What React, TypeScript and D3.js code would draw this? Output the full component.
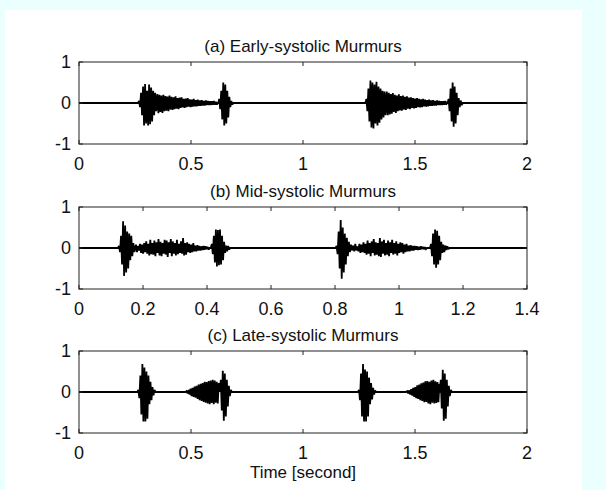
import React from 'react';
import * as d3 from 'd3';

// tick labels
const yTicks = [-1, 0, 1];
const xTicksAC = [0, 0.5, 1, 1.5, 2];
const xTicksB = [0, 0.2, 0.4, 0.6, 0.8, 1, 1.2, 1.4];

// (a) early-systolic: burst samples (alternating peaks)
const a1S1 = [0.05, -0.1, 0.25, -0.3, 0.4, -0.55, 0.46, -0.5, 0.3, -0.55, 0.45, -0.52, 0.38, -0.45, 0.3, -0.3, 0.25, -0.2];
const a1M = [0.22, -0.25, 0.2, -0.22, 0.18, -0.24, 0.2, -0.2, 0.17, -0.19, 0.16, -0.2, 0.18, -0.16, 0.15, -0.17, 0.14, -0.15, 0.16, -0.14, 0.12, -0.15, 0.13, -0.12, 0.14, -0.11, 0.1, -0.12, 0.11, -0.1, 0.12, -0.09, 0.09, -0.1, 0.08, -0.09, 0.1, -0.08, 0.07, -0.08, 0.08, -0.07, 0.06, -0.07, 0.07, -0.06, 0.05, -0.06, 0.06, -0.05, 0.05, -0.05, 0.04, -0.05, 0.04, -0.04, 0.05, -0.04, 0.03, -0.04];
const a1S2 = [0.1, -0.15, 0.3, -0.4, 0.5, -0.55, 0.45, -0.5, 0.3, -0.35, 0.15, -0.1, 0.05, -0.04];
const a2S1 = [0.1, -0.2, 0.35, -0.45, 0.55, -0.6, 0.5, -0.62, 0.45, -0.5, 0.52, -0.55, 0.4, -0.48, 0.35, -0.4, 0.3, -0.35, 0.28, -0.3];
const a2M = [0.28, -0.3, 0.25, -0.28, 0.22, -0.26, 0.24, -0.22, 0.2, -0.24, 0.18, -0.2, 0.21, -0.18, 0.17, -0.19, 0.18, -0.16, 0.15, -0.17, 0.16, -0.14, 0.13, -0.15, 0.14, -0.12, 0.12, -0.13, 0.11, -0.12, 0.12, -0.1, 0.1, -0.11, 0.09, -0.1, 0.1, -0.08, 0.08, -0.09, 0.07, -0.08, 0.08, -0.07, 0.06, -0.07, 0.07, -0.06, 0.05, -0.06, 0.06, -0.05, 0.05, -0.05, 0.04, -0.05, 0.04, -0.04, 0.05, -0.04, 0.03];
const a2S2 = [0.1, -0.2, 0.35, -0.45, 0.5, -0.58, 0.4, -0.5, 0.25, -0.3, 0.12, -0.1, 0.06, -0.05];

// (b) mid-systolic
const b1S1 = [0.05, -0.1, 0.3, -0.4, 0.65, -0.68, 0.55, -0.6, 0.4, -0.5, 0.35, -0.3, 0.3, -0.2, 0.12, -0.1];
const b1M = [0.08, -0.1, 0.05, -0.06, 0.1, -0.12, 0.08, -0.14, 0.12, -0.1, 0.16, -0.14, 0.1, -0.18, 0.2, -0.15, 0.12, -0.16, 0.18, -0.2, 0.14, -0.12, 0.22, -0.18, 0.15, -0.2, 0.12, -0.14, 0.2, -0.16, 0.18, -0.22, 0.14, -0.12, 0.22, -0.2, 0.16, -0.14, 0.12, -0.18, 0.2, -0.15, 0.1, -0.12, 0.16, -0.14, 0.24, -0.18, 0.12, -0.16, 0.14, -0.1, 0.1, -0.12, 0.08, -0.1, 0.12, -0.08, 0.06, -0.08, 0.07, -0.06, 0.05, -0.06, 0.04, -0.05, 0.05, -0.04, 0.04, -0.03, 0.03, -0.04];
const b1S2 = [0.1, -0.15, 0.3, -0.35, 0.45, -0.45, 0.44, -0.42, 0.45, -0.4, 0.3, -0.3, 0.15, -0.12, 0.06, -0.08, 0.05, -0.04];
const b2S1 = [0.05, -0.15, 0.4, -0.5, 0.68, -0.75, 0.5, -0.6, 0.35, -0.4, 0.25, -0.2, 0.15, -0.1, 0.08, -0.06];
const b2M = [0.06, -0.08, 0.1, -0.06, 0.04, -0.08, 0.1, -0.12, 0.08, -0.1, 0.14, -0.12, 0.1, -0.16, 0.18, -0.14, 0.12, -0.2, 0.16, -0.12, 0.22, -0.18, 0.14, -0.16, 0.12, -0.2, 0.24, -0.22, 0.16, -0.14, 0.2, -0.18, 0.12, -0.16, 0.18, -0.2, 0.14, -0.12, 0.2, -0.16, 0.12, -0.14, 0.16, -0.18, 0.1, -0.12, 0.14, -0.1, 0.12, -0.14, 0.08, -0.1, 0.1, -0.08, 0.06, -0.08, 0.07, -0.06, 0.05, -0.06, 0.05, -0.04, 0.04, -0.05, 0.03, -0.04, 0.04, -0.03, 0.03, -0.03, 0.02, -0.03];
const b2S2 = [0.1, -0.2, 0.35, -0.4, 0.45, -0.48, 0.42, -0.4, 0.3, -0.3, 0.15, -0.12, 0.08, -0.1, 0.06, -0.05, 0.04, -0.03];

// (c) late-systolic
const c1S1 = [0.05, -0.15, 0.4, -0.55, 0.68, -0.72, 0.6, -0.72, 0.5, -0.65, 0.4, -0.3, 0.25, -0.2, 0.12, -0.08, 0.05];
const c1M = [0.02, -0.03, 0.05, -0.06, 0.08, -0.1, 0.1, -0.12, 0.13, -0.14, 0.15, -0.17, 0.18, -0.2, 0.2, -0.22, 0.22, -0.24, 0.25, -0.26, 0.24, -0.28, 0.27, -0.3, 0.28, -0.27, 0.3, -0.3, 0.28, -0.26, 0.25, -0.28, 0.22];
const c1S2 = [0.3, -0.45, 0.52, -0.7, 0.45, -0.6, 0.3, -0.35, 0.15, -0.1, 0.05];
const c2S1 = [0.05, -0.2, 0.45, -0.6, 0.68, -0.72, 0.55, -0.72, 0.5, -0.6, 0.35, -0.3, 0.22, -0.18, 0.1, -0.06, 0.04];
const c2M = [0.02, -0.03, 0.04, -0.06, 0.07, -0.09, 0.1, -0.12, 0.12, -0.15, 0.16, -0.17, 0.18, -0.2, 0.21, -0.22, 0.23, -0.25, 0.26, -0.24, 0.27, -0.28, 0.25, -0.3, 0.28, -0.26, 0.3, -0.28, 0.26, -0.27, 0.24, -0.25, 0.2];
const c2S2 = [0.3, -0.4, 0.54, -0.7, 0.45, -0.65, 0.3, -0.35, 0.15, -0.1, 0.05];

type Burst = { t0: number; v: number[] };

const panels = [
  {
    title: '(a) Early-systolic Murmurs', top: 62, xMax: 2, xTicks: xTicksAC, dt: 0.0045,
    bursts: [
      { t0: 0.268, v: a1S1 }, { t0: 0.35, v: a1M }, { t0: 0.626, v: a1S2 },
      { t0: 1.283, v: a2S1 }, { t0: 1.374, v: a2M }, { t0: 1.65, v: a2S2 },
    ] as Burst[],
  },
  {
    title: '(b) Mid-systolic Murmurs', top: 207, xMax: 1.4, xTicks: xTicksB, dt: 0.0032,
    bursts: [
      { t0: 0.125, v: b1S1 }, { t0: 0.178, v: b1M }, { t0: 0.415, v: b1S2 },
      { t0: 0.805, v: b2S1 }, { t0: 0.857, v: b2M }, { t0: 1.1, v: b2S2 },
    ] as Burst[],
  },
  {
    title: '(c) Late-systolic Murmurs', top: 351, xMax: 2, xTicks: xTicksAC, dt: 0.0045,
    bursts: [
      { t0: 0.265, v: c1S1 }, { t0: 0.48, v: c1M }, { t0: 0.633, v: c1S2 },
      { t0: 1.25, v: c2S1 }, { t0: 1.465, v: c2M }, { t0: 1.615, v: c2S2 },
    ] as Burst[],
  },
];

const left = 79, right = 527, plotH = 82;
const font = 'Liberation Sans, Arial, sans-serif';
const tickFont = 18, titleFont = 17;

function signal(bursts: Burst[], dt: number, tEnd: number): [number, number][] {
  const pts: [number, number][] = [[0, 0]];
  bursts.forEach(b => {
    pts.push([b.t0 - dt, 0]);
    b.v.forEach((v, i) => pts.push([b.t0 + i * dt, v]));
    pts.push([b.t0 + b.v.length * dt, 0]);
  });
  pts.push([tEnd, 0]);
  return pts;
}

function Panel({ p }: { p: typeof panels[number] }) {
  const x = d3.scaleLinear().domain([0, p.xMax]).range([left, right]);
  const y = d3.scaleLinear().domain([-1, 1]).range([p.top + plotH, p.top]);
  const line = d3.line<[number, number]>().x(d => x(d[0])).y(d => y(d[1]));
  const tk = 4;
  return (
    <g>
      <text x={(left + right) / 2} y={p.top - 10} textAnchor="middle" fontSize={titleFont} fontFamily={font} fill="#111">{p.title}</text>
      <path d={line(signal(p.bursts, p.dt, p.xMax)) || ''} fill="none" stroke="#000" strokeWidth={1.8} strokeLinejoin="miter" strokeMiterlimit={2} />
      <rect x={left} y={p.top} width={right - left} height={plotH} fill="none" stroke="#222" strokeWidth={1} />
      {p.xTicks.map(t => (
        <g key={'x' + t}>
          <line x1={x(t)} x2={x(t)} y1={p.top + plotH} y2={p.top + plotH - tk} stroke="#222" />
          <line x1={x(t)} x2={x(t)} y1={p.top} y2={p.top + tk} stroke="#222" />
          <text x={x(t)} y={p.top + plotH + 26} textAnchor="middle" fontSize={tickFont} fontFamily={font} fill="#111">{String(t)}</text>
        </g>
      ))}
      {yTicks.map(t => (
        <g key={'y' + t}>
          <line x1={left} x2={left + tk} y1={y(t)} y2={y(t)} stroke="#222" />
          <line x1={right} x2={right - tk} y1={y(t)} y2={y(t)} stroke="#222" />
          <text x={left - 8} y={y(t)} dy="0.36em" textAnchor="end" fontSize={tickFont} fontFamily={font} fill="#111">{String(t)}</text>
        </g>
      ))}
    </g>
  );
}

export default function App() {
  return (
    <svg width={606} height={490} style={{ position: 'absolute', left: 0, top: 0 }}>
      <rect width={606} height={490} fill="#ebffff" />
      <rect x={5} y={10} width={577} height={480} fill="#fff" />
      {panels.map(p => <Panel key={p.title} p={p} />)}
      <text x={(left + right) / 2} y={478} textAnchor="middle" fontSize={titleFont} fontFamily={font} fill="#111">Time [second]</text>
    </svg>
  );
}
